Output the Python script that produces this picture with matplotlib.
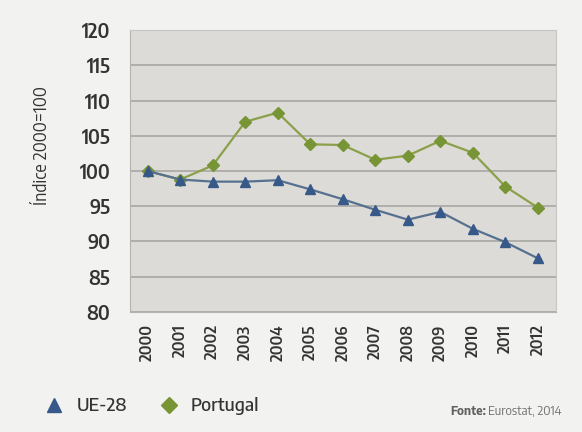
import matplotlib
matplotlib.use("Agg")
import matplotlib.pyplot as plt
from matplotlib.lines import Line2D
from matplotlib import font_manager

years = [str(y) for y in range(2000, 2013)]
ue28 = [100, 98.8, 98.5, 98.5, 98.7, 97.4, 96.0, 94.5, 93.1, 94.2, 91.8, 89.9, 87.6]
portugal = [100, 98.8, 100.8, 107.0, 108.3, 103.8, 103.7, 101.6, 102.2, 104.3, 102.6, 97.8, 94.8]
yticks = [80, 85, 90, 95, 100, 105, 110, 115, 120]

blue = "#36598a"
green = "#789535"
line_blue = "#56708f"
line_green = "#8aa04a"
txt = "#333333"

# narrow DIN-like face when available
installed = {f.name for f in font_manager.fontManager.ttflist}
pick = [n for n in ["Encode Sans Semi Condensed", "Encode Sans Condensed", "Roboto Condensed"]
        if n in installed]
plt.rcParams["font.family"] = pick[:1] + ["DejaVu Sans"]

fig = plt.figure(figsize=(5.82, 4.32), dpi=100)
fig.patch.set_facecolor("#f2f2f0")
ax = fig.add_axes([0.223, 0.278, 0.732, 0.652])
ax.set_facecolor("#dddbd7")

x = list(range(len(years)))
ax.plot(x, portugal, color=line_green, lw=1.6, marker="D", ms=6,
        mfc=green, mec=green, zorder=3)
ax.plot(x, ue28, color=line_blue, lw=1.6, marker="^", ms=7,
        mfc=blue, mec=blue, zorder=4)

ax.set_xlim(-0.55, len(years) - 0.45)
ax.set_ylim(80, 120)
ax.set_yticks(yticks)
ax.set_yticklabels([str(v) for v in yticks], fontsize=14, fontweight=600, color=txt)
ax.set_xticks(x)
ax.set_xticklabels(years, rotation=90, fontsize=11.5, fontweight=600, color=txt)
ax.tick_params(axis="y", length=0, pad=14)
ax.tick_params(axis="x", length=0, pad=9)
ax.yaxis.grid(True, color="#a9a7a3", lw=1.2)
ax.set_axisbelow(True)
for side in ["top", "right"]:
    ax.spines[side].set_color("#c8c6c2")
for side in ["left", "bottom"]:
    ax.spines[side].set_color("#b5b3af")
ax.set_ylabel("Índice 2000=100", fontsize=12.5, color=txt, va="center")
ax.yaxis.set_label_coords(-0.207, 0.59)

handles = [
    Line2D([], [], ls="none", marker="^", ms=10, mfc=blue, mec=blue, label="UE-28"),
    Line2D([], [], ls="none", marker="D", ms=8, mfc=green, mec=green, label="Portugal"),
]
fig.legend(handles=handles, loc="lower left", bbox_to_anchor=(0.045, 0.0), ncol=2,
           frameon=False, prop={"size": 13.5, "weight": 500}, labelcolor=txt,
           handletextpad=0.6, columnspacing=1.6, handlelength=1.2)

# source note: bold "Fonte:" followed by regular text
src = fig.text(0.965, 0.048, "Eurostat, 2014", ha="right", va="center",
               fontsize=9, color="#707070")
fig.canvas.draw()
bb = src.get_window_extent().transformed(fig.transFigure.inverted())
fig.text(bb.x0 - 0.004, 0.048, "Fonte:", ha="right", va="center", fontsize=9,
         color="#606060", fontweight="bold")

fig.savefig("out.png", dpi=100, facecolor=fig.get_facecolor())
